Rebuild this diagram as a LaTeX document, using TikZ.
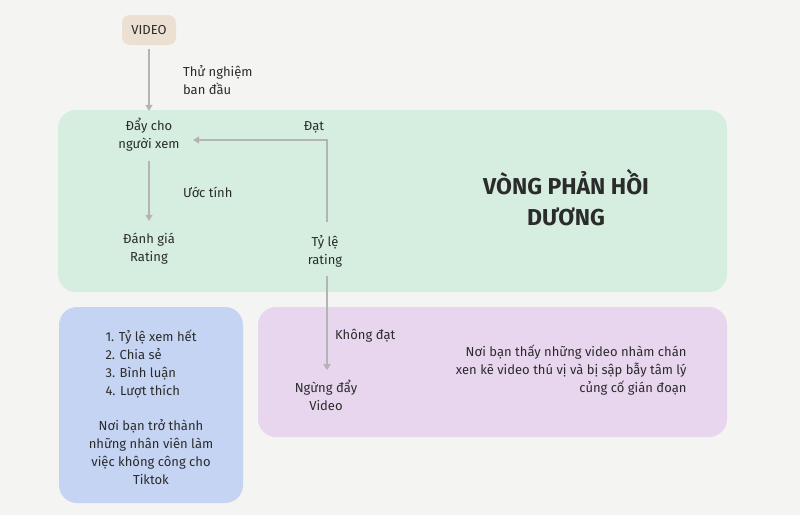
\documentclass[tikz,border=0pt]{standalone}
\usepackage{fontspec}
\setmainfont{Fira Sans}
\usetikzlibrary{positioning, arrows.meta}
\definecolor{bgc}{HTML}{F4F4F2}
\definecolor{greenc}{HTML}{D5EEDF}
\definecolor{bluec}{HTML}{C6D4F3}
\definecolor{purplec}{HTML}{E8D6EE}
\definecolor{videoc}{HTML}{ECE0D3}
\definecolor{txtc}{HTML}{2B2B2B}
\definecolor{linec}{HTML}{B4B4B4}

\begin{document}
\begin{tikzpicture}[x=1pt, y=-1pt,
    panel/.style={rounded corners=18pt},
    lbl/.style={align=center, text=txtc, font=\fontsize{13}{18}\selectfont},
    arr/.style={draw=linec, line width=1.5pt, -{Triangle[length=6pt, width=7pt]}},
]
    % Background
    \fill[bgc] (0,0) rectangle (800,515);
    \useasboundingbox (0,0) rectangle (800,515);

    % Panels
    \fill[panel, greenc]  (58,110) rectangle (727,292);
    \fill[panel, bluec]   (59,307) rectangle (243,503);
    \fill[panel, purplec] (258,307) rectangle (727,437);

    % Nodes
    \node[lbl, fill=videoc, rounded corners=8pt, minimum width=54pt, minimum height=30pt] (video) at (149,30) {VIDEO};
    \node[lbl] (push)  at (149,135) {Đẩy cho\\người xem};
    \node[lbl] (rate)  at (149,249) {Đánh giá\\Rating};
    \node[lbl] (ratio) at (325,251) {Tỷ lệ\\rating};
    \node[lbl] (stop)  at (326,395) {Ngừng đẩy\\Video};
    \coordinate (corner) at (327,140);

    \node[lbl, font=\bfseries\fontsize{23}{31}\selectfont] (title) at (566,198) {VÒNG PHẢN HỒI\\DƯƠNG};

    \node[lbl, align=left, anchor=west] (metrics) at (102,364) {1. Tỷ lệ xem hết\\2. Chia sẻ\\3. Bình luận\\4. Lượt thích};
    \node[lbl] (worker) at (151,452) {Nơi bạn trở thành\\những nhân viên làm\\việc không công cho\\Tiktok};

    \node[lbl, align=right, anchor=east] (boring) at (690,370) {Nơi bạn thấy những video nhàm chán\\xen kẽ video thú vị và bị sập bẫy tâm lý\\củng cố gián đoạn};

    % Lines
    \draw[arr, shorten <=4pt, shorten >=4pt] (video) -- node[lbl, right=30pt, align=left] {Thử nghiệm\\ban đầu} (push);
    \draw[arr, shorten <=6pt, shorten >=9pt] (push) -- node[lbl, right=30pt] {Ước tính} (rate);
    \draw[arr, shorten <=10pt, shorten >=10pt] (ratio.north -| corner) -- (corner)
        -- node[lbl, pos=0.09, above=3pt] {Đạt} (push.east |- corner);
    \draw[arr, shorten <=6pt, shorten >=6pt] (ratio.south -| corner) -- node[lbl, right=4pt, pos=0.62] {Không đạt} (stop.north -| corner);

\end{tikzpicture}
\end{document}
